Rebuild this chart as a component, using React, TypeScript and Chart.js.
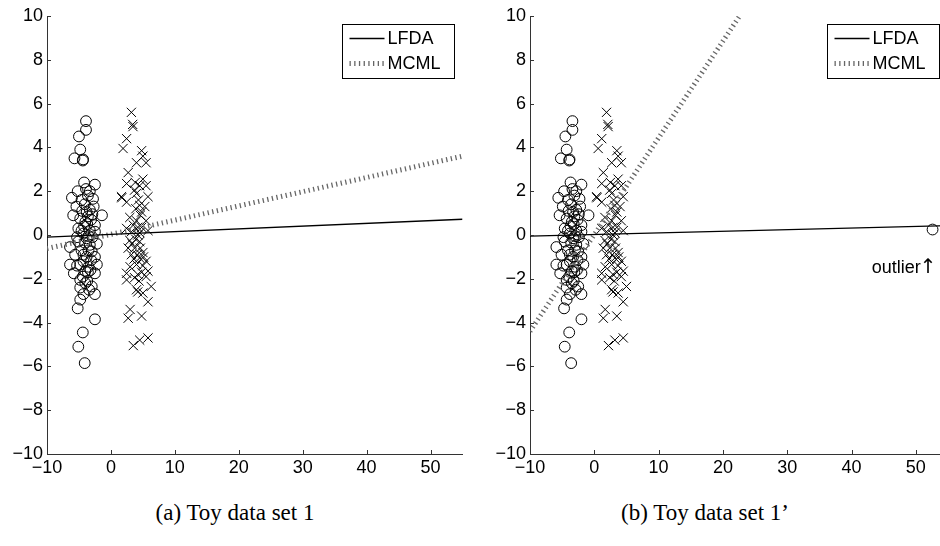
import React, { useEffect, useRef } from "react";
import { Chart, registerables } from "chart.js";
Chart.register(...registerables);

// ---------- data ----------
const xTicks = [-10, 0, 10, 20, 30, 40, 50];
const yTicks = [-10, -8, -6, -4, -2, 0, 2, 4, 6, 8, 10];
const legendLabels = ["LFDA", "MCML"];
const captions = ["(a) Toy data set 1", "(b) Toy data set 1\u2019"];
const outlierText = "outlier";
const outlierArrow = "\u2191";

// Toy data set 1 — class 1 (circles)
const circ1X = [-3.9, -3.9, -5.0, -4.8, -5.7, -4.4, -4.35, -4.2, -2.5, -5.2, -6.1, -3.3, -4.6, -2.8, -1.4, -5.9, -3.8, -2.7, -4.8, -4.0, -2.5, -5.1, -3.3, -4.3, -2.5, -6.4, -5.1, -3.8, -2.2, -4.6, -3.0, -5.6, -3.8, -2.5, -6.4, -4.8, -3.5, -2.2, -5.8, -4.0, -2.5, -4.8, -4.8, -3.0, -4.3, -2.5, -4.8, -5.2, -2.5, -4.4, -5.1, -4.1, -3.6, -4.1, -3.3, -4.5, -3.6, -4.2, -3.7, -3.1, -4.6, -3.5, -4.1, -3.3, -4.3, -3.5, -3.1, -4.3, -3.6, -3.2, -4.4, -3.7, -3.4, -4.0, -5.3, -5.4, -2.9, -3.9, -2.9, -5.3];
const circY = [5.2, 4.8, 4.5, 3.9, 3.5, 3.4, 3.45, 2.4, 2.3, 2.0, 1.7, 2.0, 1.6, 1.65, 0.9, 0.9, 1.05, 1.3, 0.75, 0.6, 0.45, 0.3, 0.2, 0.07, 0.15, -0.55, -0.3, -0.15, -0.4, -0.7, -0.75, -0.9, -1.0, -1.0, -1.35, -1.35, -1.45, -1.35, -1.75, -1.65, -1.75, -2.05, -2.4, -2.35, -2.7, -2.7, -2.95, -3.35, -3.85, -4.45, -5.1, -5.85, 1.8, 1.4, 1.15, 1.1, 0.85, 0.4, 0.5, 0.7, 0.2, -0.05, -0.35, -0.45, -0.9, -0.7, -1.15, -1.2, -1.7, -1.6, -1.9, -2.1, -2.5, -2.2, -0.1, 1.3, -0.1, 2.1, 0.95, -1.4];
// Toy data set 1 — class 2 (crosses)
const cross1X = [3.2, 3.4, 3.45, 2.45, 1.9, 4.8, 5.0, 4.0, 5.5, 2.7, 5.0, 2.45, 4.5, 5.5, 3.7, 4.0, 1.65, 1.7, 5.8, 2.45, 4.5, 5.3, 4.8, 2.95, 4.0, 5.5, 3.5, 4.8, 2.45, 5.8, 3.2, 4.2, 2.95, 4.5, 2.7, 3.7, 5.0, 3.2, 4.5, 5.5, 4.0, 3.0, 5.0, 5.8, 2.45, 4.2, 5.5, 3.7, 2.45, 6.3, 4.0, 4.2, 5.0, 5.8, 3.0, 2.7, 4.8, 3.5, 4.5, 5.8, 4.3, 3.9, 4.6, 4.2, 3.9, 4.6, 3.6, 4.8, 4.4, 3.3, 4.5, 5.1, 3.8, 4.1];
const crossY = [5.6, 5.05, 4.95, 4.4, 3.95, 3.85, 3.6, 3.3, 3.3, 2.85, 2.55, 2.35, 2.25, 2.25, 2.05, 1.9, 1.75, 1.7, 1.75, 1.5, 1.35, 1.3, 1.05, 0.8, 0.65, 0.65, 0.45, 0.35, 0.3, 0.2, 0.15, 0.0, -0.25, -0.3, -0.6, -0.6, -0.8, -0.9, -1.05, -1.2, -1.35, -1.45, -1.4, -1.65, -1.75, -1.8, -1.9, -1.95, -2.05, -2.35, -2.5, -2.6, -2.65, -3.05, -3.4, -3.8, -3.7, -5.05, -4.8, -4.7, 1.6, 1.2, 0.9, 0.35, -0.2, -0.6, -1.1, -1.7, -2.1, -0.4, 0.1, -1.0, 2.4, -0.9];

// Toy data set 1' — x positions
const circ2X = [-3.4, -3.4, -4.5, -4.3, -5.2, -3.9, -3.85, -3.7, -2.0, -4.7, -5.6, -2.8, -4.1, -2.3, -0.9, -5.4, -3.3, -2.2, -4.3, -3.5, -2.0, -4.6, -2.8, -3.8, -2.0, -5.9, -4.6, -3.3, -1.7, -4.1, -2.5, -5.1, -3.3, -2.0, -5.9, -4.3, -3.0, -1.7, -5.3, -3.5, -2.0, -4.3, -4.3, -2.5, -3.8, -2.0, -4.3, -4.7, -2.0, -3.9, -4.6, -3.6, -3.1, -3.6, -2.8, -4.0, -3.1, -3.7, -3.2, -2.6, -4.1, -3.0, -3.6, -2.8, -3.8, -3.0, -2.6, -3.8, -3.1, -2.7, -3.9, -3.2, -2.9, -3.5, -4.8, -4.9, -2.4, -3.4, -2.4, -4.8];
const cross2X = [1.9, 2.1, 2.15, 1.15, 0.6, 3.5, 3.7, 2.7, 4.2, 1.4, 3.7, 1.15, 3.2, 4.2, 2.4, 2.7, 0.35, 0.4, 4.5, 1.15, 3.2, 4.0, 3.5, 1.65, 2.7, 4.2, 2.2, 3.5, 1.15, 4.5, 1.9, 2.9, 1.65, 3.2, 1.4, 2.4, 3.7, 1.9, 3.2, 4.2, 2.7, 1.7, 3.7, 4.5, 1.15, 2.9, 4.2, 2.4, 1.15, 5.0, 2.7, 2.9, 3.7, 4.5, 1.7, 1.4, 3.5, 2.2, 3.2, 4.5, 3.0, 2.6, 3.3, 2.9, 2.6, 3.3, 2.3, 3.5, 3.1, 2.0, 3.2, 3.8, 2.5, 2.8];
const outlierX = [52.6];
const outlierY = [0.25];

// projection directions (end points)
const lfda1X = [-10, 55];
const lfda1Y = [-0.1, 0.72];
const mcml1X = [-10, 55];
const mcml1Y = [-0.62, 3.6];
const lfda2X = [-10, 55];
const lfda2Y = [-0.05, 0.43];
const mcml2X = [-10, 22.6];
const mcml2Y = [-4.4, 10];

// ---------- styles ----------
const SANS = "'Liberation Sans', Arial, Helvetica, sans-serif";
const SERIF = "'Liberation Serif', 'Times New Roman', serif";
const AXIS = "#333";
const MCML_COLOR = "#666";
const MCML_DASH = [1.3, 3.4];
const FONT_SIZE = 18;
const CANVAS_H = 500;
const AREA_BOTTOM = 454;

const pts = (xs: number[], ys: number[]) => xs.map((x, i) => ({ x, y: ys[i] }));
const fmt = (v: any) => String(v).replace("-", "\u2212");

type PlotProps = {
  left: number;
  width: number;
  yAxisWidth: number;
  padRight: number;
  circX: number[];
  crossX: number[];
  lfdaX: number[];
  lfdaY: number[];
  mcmlX: number[];
  mcmlY: number[];
  showOutlier?: boolean;
};

function Plot(p: PlotProps) {
  const ref = useRef<HTMLCanvasElement>(null);
  useEffect(() => {
    const canvas = ref.current!;
    const datasets: any[] = [
      {
        label: legendLabels[0],
        data: pts(p.lfdaX, p.lfdaY),
        showLine: true,
        borderColor: "#000",
        borderWidth: 1.3,
        pointRadius: 0,
        fill: false,
      },
      {
        label: legendLabels[1],
        data: pts(p.mcmlX, p.mcmlY),
        showLine: true,
        borderColor: MCML_COLOR,
        borderWidth: 5,
        borderDash: MCML_DASH,
        pointRadius: 0,
        fill: false,
      },
      {
        label: "class 1",
        data: pts(p.circX, circY),
        pointStyle: "circle",
        pointRadius: 5.4,
        borderColor: "#000",
        backgroundColor: "rgba(0,0,0,0)",
        borderWidth: 1,
      },
      {
        label: "class 2",
        data: pts(p.crossX, crossY),
        pointStyle: "crossRot",
        pointRadius: 6.5,
        borderColor: "#000",
        backgroundColor: "rgba(0,0,0,0)",
        borderWidth: 1,
      },
    ];
    if (p.showOutlier) {
      datasets.push({
        label: "outlier",
        data: pts(outlierX, outlierY),
        pointStyle: "circle",
        pointRadius: 5.4,
        borderColor: "#000",
        backgroundColor: "rgba(0,0,0,0)",
        borderWidth: 1,
      });
    }

    const decor = {
      id: "decor",
      afterDraw(chart: any) {
        const { ctx, chartArea: a, scales } = chart;
        const xs = scales.x;
        const ys = scales.y;
        ctx.save();
        // inward tick marks
        ctx.strokeStyle = AXIS;
        ctx.lineWidth = 1;
        ctx.beginPath();
        xs.ticks.forEach((t: any) => {
          const px = Math.round(xs.getPixelForValue(t.value)) + 0.5;
          ctx.moveTo(px, a.bottom);
          ctx.lineTo(px, a.bottom - 4);
        });
        ys.ticks.forEach((t: any) => {
          const py = Math.round(ys.getPixelForValue(t.value)) + 0.5;
          ctx.moveTo(a.left, py);
          ctx.lineTo(a.left + 4, py);
        });
        ctx.stroke();

        // legend box
        const bw = 112;
        const bh = 54;
        const bx = Math.round(a.right - 9 - bw) + 0.5;
        const by = Math.round(a.top + 8) + 0.5;
        ctx.fillStyle = "#fff";
        ctx.fillRect(bx, by, bw, bh);
        ctx.strokeStyle = "#000";
        ctx.lineWidth = 1;
        ctx.strokeRect(bx, by, bw, bh);
        const r1 = by + 14;
        const r2 = by + 39;
        ctx.beginPath();
        ctx.moveTo(bx + 7, r1);
        ctx.lineTo(bx + 42, r1);
        ctx.lineWidth = 1.3;
        ctx.strokeStyle = "#000";
        ctx.stroke();
        ctx.beginPath();
        ctx.setLineDash(MCML_DASH);
        ctx.moveTo(bx + 7, r2);
        ctx.lineTo(bx + 42, r2);
        ctx.lineWidth = 5;
        ctx.strokeStyle = MCML_COLOR;
        ctx.stroke();
        ctx.setLineDash([]);
        ctx.fillStyle = "#000";
        ctx.font = `${FONT_SIZE}px ${SANS}`;
        ctx.textBaseline = "middle";
        ctx.textAlign = "left";
        ctx.fillText(legendLabels[0], bx + 45, r1 + 1);
        ctx.fillText(legendLabels[1], bx + 45, r2 + 1);

        if (p.showOutlier) {
          const ox = xs.getPixelForValue(outlierX[0]);
          const oy = ys.getPixelForValue(outlierY[0]);
          ctx.textAlign = "right";
          ctx.font = `${FONT_SIZE + 2}px 'DejaVu Sans', sans-serif`;
          const aw = ctx.measureText(outlierArrow).width;
          ctx.fillText(outlierArrow, ox + 4, oy + 38);
          ctx.font = `${FONT_SIZE}px ${SANS}`;
          ctx.fillText(outlierText, ox + 4 - aw + 1, oy + 39);
        }
        ctx.restore();
      },
    };

    const tickFont = { family: SANS, size: FONT_SIZE };
    const chart = new Chart(canvas, {
      type: "scatter",
      data: { datasets },
      options: {
        responsive: false,
        animation: false,
        events: [],
        layout: { padding: { top: 16, right: p.padRight, left: 0, bottom: 0 } },
        plugins: { legend: { display: false }, tooltip: { enabled: false } },
        scales: {
          x: {
            type: "linear",
            min: -10,
            max: 55,
            afterBuildTicks: (s: any) => {
              s.ticks = xTicks.map((v) => ({ value: v }));
            },
            afterFit: (s: any) => {
              s.height = CANVAS_H - AREA_BOTTOM;
            },
            grid: { display: false, drawTicks: false },
            border: { display: true, color: AXIS, width: 1 },
            ticks: {
              padding: 3,
              color: "#000",
              font: tickFont,
              maxRotation: 0,
              autoSkip: false,
              callback: (v: any) => fmt(v),
            },
          },
          y: {
            type: "linear",
            min: -10,
            max: 10,
            afterBuildTicks: (s: any) => {
              s.ticks = yTicks.map((v) => ({ value: v }));
            },
            afterFit: (s: any) => {
              s.width = p.yAxisWidth;
            },
            grid: { display: false, drawTicks: false },
            border: { display: true, color: AXIS, width: 1 },
            ticks: {
              padding: 4,
              color: "#000",
              font: tickFont,
              autoSkip: false,
              callback: (v: any) => fmt(v),
            },
          },
        },
      } as any,
      plugins: [decor],
    });
    return () => chart.destroy();
  }, []);
  return (
    <canvas
      ref={ref}
      width={p.width}
      height={CANVAS_H}
      style={{ position: "absolute", left: p.left, top: 0, width: p.width, height: CANVAS_H }}
    />
  );
}

export default function App() {
  const capStyle = (left: number): React.CSSProperties => ({
    position: "absolute",
    left,
    top: 500,
    width: 470,
    textAlign: "center",
    fontFamily: SERIF,
    fontSize: 23,
    lineHeight: "26px",
    color: "#000",
  });
  return (
    <div
      style={{
        position: "fixed",
        left: 0,
        top: 0,
        width: 940,
        height: 546,
        overflow: "hidden",
        background: "#fff",
      }}
    >
      <Plot
        left={0}
        width={470}
        yAxisWidth={47}
        padRight={6}
        circX={circ1X}
        crossX={cross1X}
        lfdaX={lfda1X}
        lfdaY={lfda1Y}
        mcmlX={mcml1X}
        mcmlY={mcml1Y}
      />
      <Plot
        left={470}
        width={490}
        yAxisWidth={60}
        padRight={12}
        circX={circ2X}
        crossX={cross2X}
        lfdaX={lfda2X}
        lfdaY={lfda2Y}
        mcmlX={mcml2X}
        mcmlY={mcml2Y}
        showOutlier
      />
      <div style={capStyle(0)}>{captions[0]}</div>
      <div style={capStyle(470)}>{captions[1]}</div>
    </div>
  );
}
